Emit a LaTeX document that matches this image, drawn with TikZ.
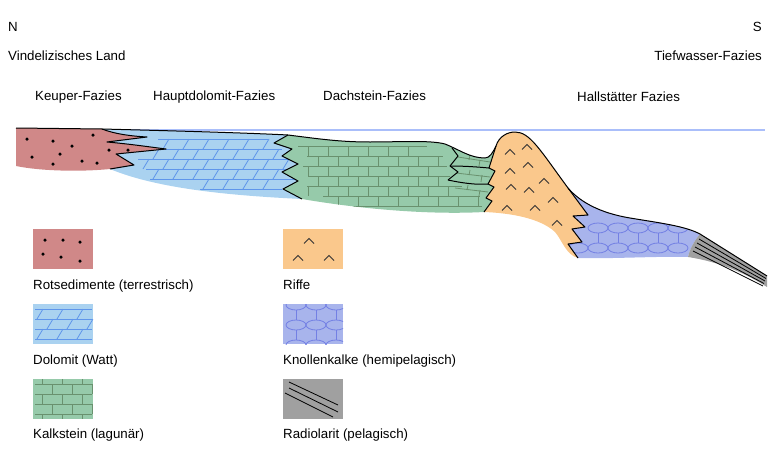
\documentclass[tikz,border=0pt]{standalone}
\usepackage{fontspec}
\setmainfont{Liberation Sans}
\usepackage{xcolor}
\usetikzlibrary{backgrounds}
\definecolor{rotsed}{RGB}{208,136,136}
\definecolor{dolofill}{RGB}{170,210,240}
\definecolor{dololine}{RGB}{95,150,235}
\definecolor{kalkfill}{RGB}{150,202,170}
\definecolor{kalkline}{RGB}{105,145,110}
\definecolor{riffill}{RGB}{250,200,140}
\definecolor{knollfill}{RGB}{168,180,236}
\definecolor{knolline}{RGB}{115,128,228}
\definecolor{radiofill}{RGB}{160,160,160}
\definecolor{meer}{RGB}{170,190,250}

\begin{document}
\begin{tikzpicture}[x=1pt,y=-1pt,font=\fontsize{13.3}{16}\selectfont,
  grenze/.style={black,line width=1pt,line join=round},
  muster/.style={line width=0.8pt},
  punkt/.style={circle,fill=black,inner sep=0pt,minimum size=3.5pt},
  riffmark/.style={black!80,line width=0.8pt},
  lbl/.style={anchor=base west,inner sep=0pt}]
\useasboundingbox (0,0) rectangle (770,471);

% Beschriftung oben
\node[lbl] (N) at (8,31) {N};
\node[anchor=base east,inner sep=0pt] (S) at (762,31) {S};
\node[lbl] (vind) at (8,60) {Vindelizisches Land};
\node[anchor=base east,inner sep=0pt] (tief) at (762,60) {Tiefwasser-Fazies};
\node[lbl] (keuper) at (35,100) {Keuper-Fazies};
\node[lbl] (haupt) at (153,100) {Hauptdolomit-Fazies};
\node[lbl] (dach) at (323,100) {Dachstein-Fazies};
\node[lbl] (hall) at (577,101) {Hallstätter Fazies};

% Meeresspiegel
\draw[meer,line width=1.2pt] (117,130) -- (765,130);

% Rotsedimente
\begin{scope}
\path[clip] (16,128) -- (102,129) .. controls (115,134) and (130,136) .. (147,137) -- (107,142)
  .. controls (130,144) and (150,147) .. (166,149) -- (116,154) -- (134,165) -- (110,169)
  .. controls (80,172) and (40,171) .. (16,166) -- cycle;
\fill[rotsed] (10,120) rectangle (170,175);
\foreach \x/\y in {27/139,53/141,72/146,93/135,60/154,32/157,53/164,82/161,97/163,109/150,128/150}
  \node[punkt] at (\x,\y) {};
\end{scope}

% Dolomit
\begin{scope}[muster]
\path[clip] (102,129) .. controls (180,131) and (250,133) .. (288,135) -- (274,143) -- (292,149)
  -- (282,156) -- (298,164) -- (282,172) -- (298,181) -- (283,189) -- (302,199)
  .. controls (240,196) and (160,190) .. (110,169) -- (134,165) -- (116,154) -- (166,149)
  .. controls (150,147) and (130,144) .. (107,142) -- (147,137) .. controls (130,136) and (115,134) .. (102,129) -- cycle;
\fill[dolofill] (100,125) rectangle (305,202);
\foreach \y/\a/\b in {139/158/268,149/143/282,159/138/292,169/146/292,179/150/295,189/200/282}
  \draw[dololine] (\a,\y) -- (\b,\y);
\foreach \x in {163,183,...,263} \draw[dololine] (\x,149) -- ++(6,-10);
\foreach \x in {153,173,...,273} \draw[dololine] (\x,159) -- ++(6,-10);
\foreach \x in {143,163,...,283} \draw[dololine] (\x,169) -- ++(6,-10);
\foreach \x in {153,173,...,273} \draw[dololine] (\x,179) -- ++(6,-10);
\foreach \x in {203,223,...,263} \draw[dololine] (\x,189) -- ++(6,-10);
\end{scope}

% Kalkstein (Dachstein)
\begin{scope}[muster]
\path[clip] (288,135) .. controls (320,139) and (340,142) .. (370,142) .. controls (400,142) and (430,140) .. (445,144)
  .. controls (460,150) and (470,158) .. (485,158) .. controls (490,158) and (493,152) .. (496,146)
  -- (489,168) -- (495,171) -- (488,184) -- (494,187) -- (486,198) -- (492,201) -- (484,212)
  .. controls (430,215) and (360,209) .. (302,199) -- (283,189) -- (298,181) -- (282,172)
  -- (298,164) -- (282,156) -- (292,149) -- (274,143) -- cycle;
\fill[kalkfill] (270,130) rectangle (500,216);
\foreach \y/\a/\b in {146/298/427,156/307/443,166/303/447,176/308/450,186/307/462,196/323/480,206/353/482}
  \draw[kalkline] (\a,\y) -- (\b,\y);
\foreach \x in {308,328,...,408} \draw[kalkline] (\x,146) -- (\x,156);
\foreach \x in {318,338,...,438} \draw[kalkline] (\x,156) -- (\x,166);
\foreach \x in {308,328,...,428} \draw[kalkline] (\x,166) -- (\x,176);
\foreach \x in {318,338,...,438} \draw[kalkline] (\x,176) -- (\x,186);
\foreach \x in {308,328,...,448} \draw[kalkline] (\x,186) -- (\x,196);
\foreach \x in {338,358,...,478} \draw[kalkline] (\x,196) -- (\x,206);
\draw[kalkline] (458,157) -- (490,162) (470,155) -- (469,160) (480,160) -- (479,166);
\draw[kalkline] (456,173) -- (490,177) (470,170) -- (469,175) (482,175) -- (481,182);
\draw[kalkline] (455,188) -- (488,192) (468,185) -- (467,190) (480,190) -- (479,196);
\end{scope}

% Riffe
\begin{scope}
\path[clip] (496,146) .. controls (499,136) and (508,132) .. (515,132) .. controls (530,132) and (540,150) .. (568,188)
  -- (588,215) -- (573,216) -- (585,227) -- (572,229) -- (582,242) -- (568,244) -- (578,258)
  .. controls (566,255) and (562,240) .. (555,232) .. controls (540,218) and (510,213) .. (484,212)
  -- (492,201) -- (486,198) -- (494,187) -- (488,184) -- (495,171) -- (489,168) -- cycle;
\fill[riffill] (480,128) rectangle (592,262);
\end{scope}
\foreach \x/\y in {510/152,527/147,510/171,528/165,511/187,529/190,544/181,507/208,535/208,553/200,557/223}
  \draw[riffmark] (\x,\y) ++(-5,2.5) -- ++(5,-5) -- ++(5,5);

% Knollenkalke
\begin{scope}[muster]
\path[clip] (568,188) .. controls (580,202) and (600,213) .. (630,218) .. controls (660,223) and (685,226) .. (700,234)
  .. controls (695,240) and (690,248) .. (688,257) .. controls (660,256) and (610,259) .. (578,258)
  -- (568,244) -- (582,242) -- (572,229) -- (585,227) -- (573,216) -- (588,215) -- cycle;
\fill[knollfill] (565,185) rectangle (702,262);
\foreach \x in {598,618,...,678} {
  \draw[knolline] (\x,228) ellipse (10 and 5);
  \draw[knolline] (\x,248) ellipse (10 and 5);
  \draw[knolline] (\x,233) -- (\x,243);
}
\draw[knolline] (578,248) ellipse (10 and 5);
\end{scope}

% Radiolarit
\fill[radiofill] (700,234) -- (767,276) -- (767,287) .. controls (745,273) and (720,262) .. (688,257)
  .. controls (690,248) and (695,240) .. (700,234) -- cycle;
\draw[black,line width=0.8pt] (699,239) -- (766,278.5) (697,243) -- (765,281) (695,247) -- (764,283.5) (693,251) -- (763,286);

% Grenzlinien
\draw[grenze] (16,128) -- (102,129) .. controls (180,131) and (250,133) .. (288,135)
  .. controls (320,139) and (340,142) .. (370,142) .. controls (400,142) and (430,140) .. (445,144)
  .. controls (460,150) and (470,158) .. (485,158) .. controls (490,158) and (493,152) .. (496,146)
  .. controls (499,136) and (508,132) .. (515,132) .. controls (530,132) and (540,150) .. (568,188)
  .. controls (580,202) and (600,213) .. (630,218) .. controls (660,223) and (685,226) .. (700,234) -- (767,276);
\draw[grenze] (102,129) .. controls (115,134) and (130,136) .. (147,137) -- (107,142)
  .. controls (130,144) and (150,147) .. (166,149) -- (116,154) -- (134,165) -- (110,169);
\draw[grenze] (288,135) -- (274,143) -- (292,149) -- (282,156) -- (298,164) -- (282,172) -- (298,181) -- (283,189) -- (302,199);
\draw[grenze] (496,146) -- (489,168) -- (495,171) -- (488,184) -- (494,187) -- (486,198) -- (492,201) -- (484,212);
\draw[grenze] (568,188) -- (588,215) -- (573,216) -- (585,227) -- (572,229) -- (582,242) -- (568,244) -- (578,258);
\draw[grenze] (452,148) -- (458,156) -- (450,166) -- (458,172) -- (448,180);
\draw[grenze] (450,166) .. controls (465,166) and (478,167) .. (489,168);
\draw[grenze] (448,180) .. controls (462,183) and (476,185) .. (488,184);

% Legende
\fill[rotsed] (33,229) rectangle (93,269);
\foreach \x/\y in {45/240,63/240,80/242,43/254,61/257,80/261}
  \node[punkt] at (\x,\y) {};
\node[lbl] (rotlbl) at (33,289) {Rotsedimente (terrestrisch)};

\begin{scope}[muster]
\path[clip] (33,304) rectangle (93,344);
\fill[dolofill] (33,304) rectangle (93,344);
\foreach \y in {309,319,329,339} \draw[dololine] (35,\y) -- (92,\y);
\foreach \x in {37,57,77} \draw[dololine] (\x,319) -- ++(6,-10);
\foreach \x in {47,67,87} \draw[dololine] (\x,329) -- ++(6,-10);
\foreach \x in {37,57,77} \draw[dololine] (\x,339) -- ++(6,-10);
\end{scope}
\node[lbl] (dololbl) at (33,364) {Dolomit (Watt)};

\begin{scope}[muster]
\path[clip] (33,379) rectangle (93,419);
\fill[kalkfill] (33,379) rectangle (93,419);
\foreach \y in {384,394,404,414} \draw[kalkline] (35,\y) -- (92,\y);
\foreach \x in {42,62,82} \draw[kalkline] (\x,379) -- (\x,384) (\x,394) -- (\x,404) (\x,414) -- (\x,419);
\foreach \x in {52,72,92} \draw[kalkline] (\x,384) -- (\x,394) (\x,404) -- (\x,414);
\end{scope}
\node[lbl] (kalklbl) at (33,438) {Kalkstein (lagunär)};

\fill[riffill] (283,229) rectangle (343,269);
\foreach \x/\y in {309/241,298/258,329/258}
  \draw[riffmark] (\x,\y) ++(-5,2.5) -- ++(5,-5) -- ++(5,5);
\node[lbl] (rifflbl) at (283,289) {Riffe};

\begin{scope}[muster]
\path[clip] (283,304) rectangle (343,344);
\fill[knollfill] (283,304) rectangle (343,344);
\foreach \x in {296,316,336} {
  \draw[knolline] (\x,305) ellipse (10 and 5);
  \draw[knolline] (\x,325) ellipse (10 and 5);
  \draw[knolline] (\x,345) ellipse (10 and 5);
  \draw[knolline] (\x,310) -- (\x,320) (\x,330) -- (\x,340);
}
\end{scope}
\node[lbl] (knolllbl) at (283,364) {Knollenkalke (hemipelagisch)};

\fill[radiofill] (283,379) rectangle (343,419);
\draw[black,line width=0.8pt] (289,382) -- (338,405) (289,388) -- (338,412) (285,393) -- (333,417);
\node[lbl] (radiolbl) at (283,438) {Radiolarit (pelagisch)};
\end{tikzpicture}
\end{document}
